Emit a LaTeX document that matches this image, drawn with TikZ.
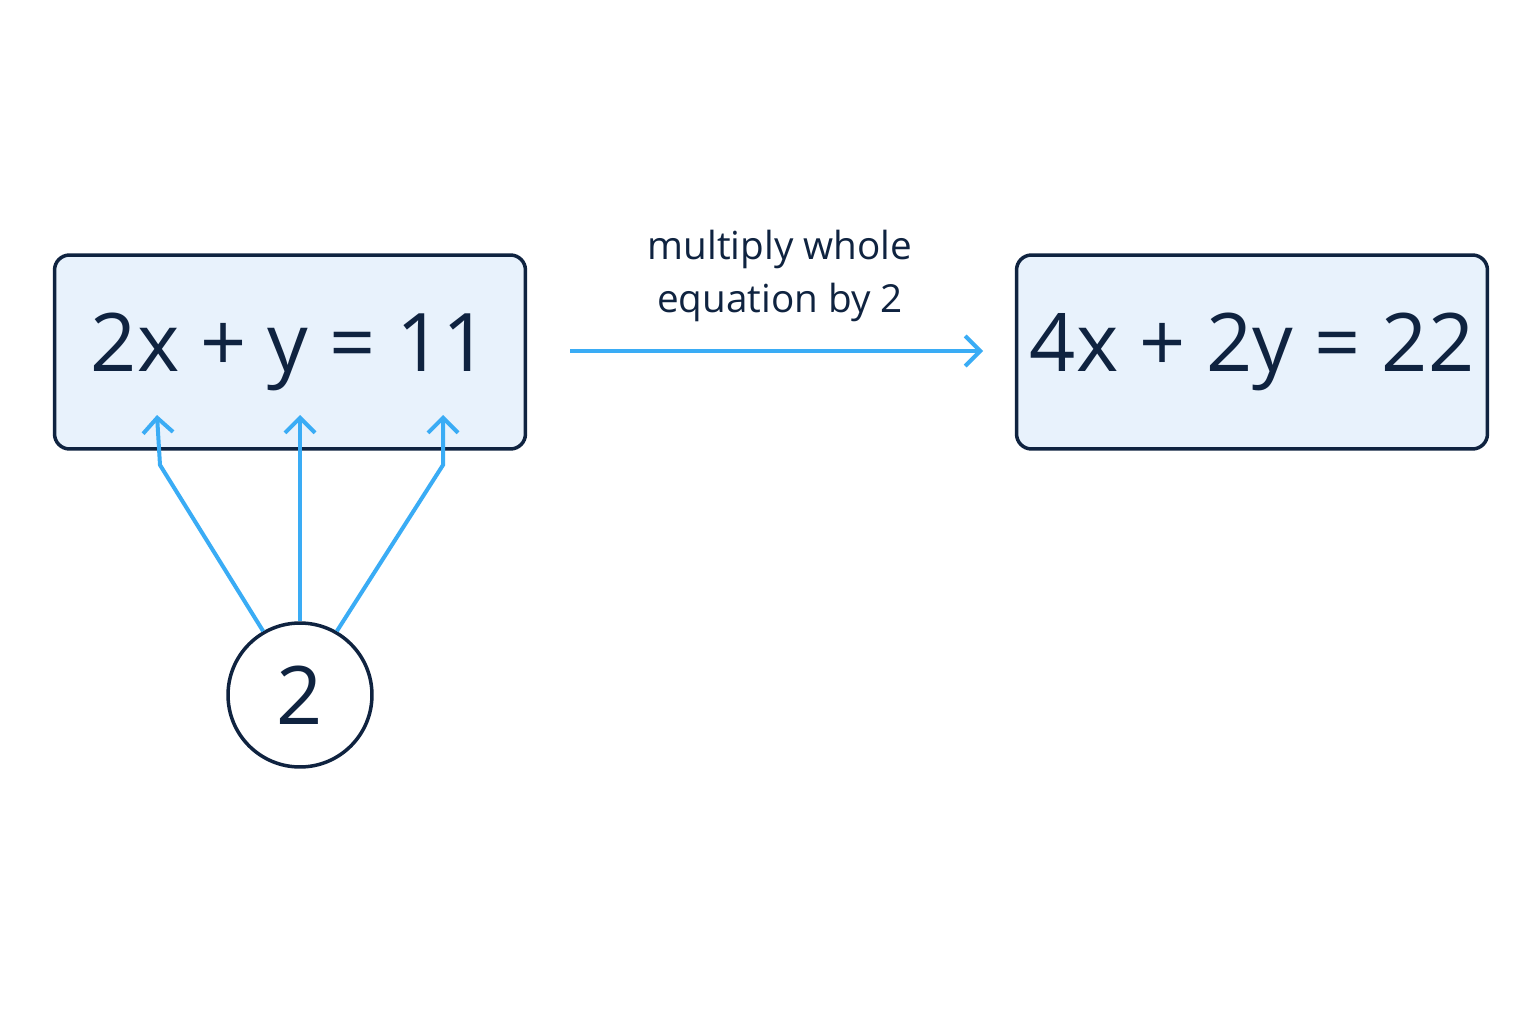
\documentclass[tikz,border=0pt]{standalone}
\usepackage{fontspec}
\setmainfont{Open Sans}
\usetikzlibrary{arrows.meta,positioning}
\definecolor{navy}{HTML}{0F2340}
\definecolor{boxfill}{HTML}{E8F2FC}
\definecolor{skyline}{HTML}{3AACF5}
\begin{document}
\begin{tikzpicture}
[x=0.02cm, y=-0.02cm,
eqbox/.style={draw=navy, fill=boxfill, line width=0.07cm, rounded corners=0.3cm,
  minimum width=9.42cm, minimum height=3.88cm, font=\fontsize{46}{50}\selectfont, text=navy},
factor/.style={circle, draw=navy, fill=white, line width=0.07cm, minimum size=2.88cm,
  font=\fontsize{46}{50}\selectfont, text=navy, inner sep=0pt},
blueline/.style={draw=skyline, line width=0.08cm, -{Straight Barb[length=0.3cm, width=0.6cm, line width=0.08cm]}}
]
  \useasboundingbox[fill=white] (0,0) rectangle (1536,1024);
  \node[eqbox] (lhs) at (290,352) {2x + y = 11};
  \node[eqbox] (rhs) at (1252,352) {4x + 2y = 22};
  \node[factor] (two) at (300,695) {2};
  \node[font=\fontsize{22}{30}\selectfont, text=navy, align=center] (note) at (780,276)
    {multiply whole\\equation by 2};

  \coordinate (startR) at (570,351);
  \coordinate (endR) at (983,351);
  \draw[blueline] (startR) -- (endR);

  \coordinate (tipx) at (157,415);
  \coordinate (tipy) at (300,415);
  \coordinate (tipc) at (443,415);
  \draw[blueline] (two.120) -- (160,465) -- (tipx);
  \draw[blueline] (two.north) -- (tipy);
  \draw[blueline] (two.60) -- (443,465) -- (tipc);
\end{tikzpicture}
\end{document}
